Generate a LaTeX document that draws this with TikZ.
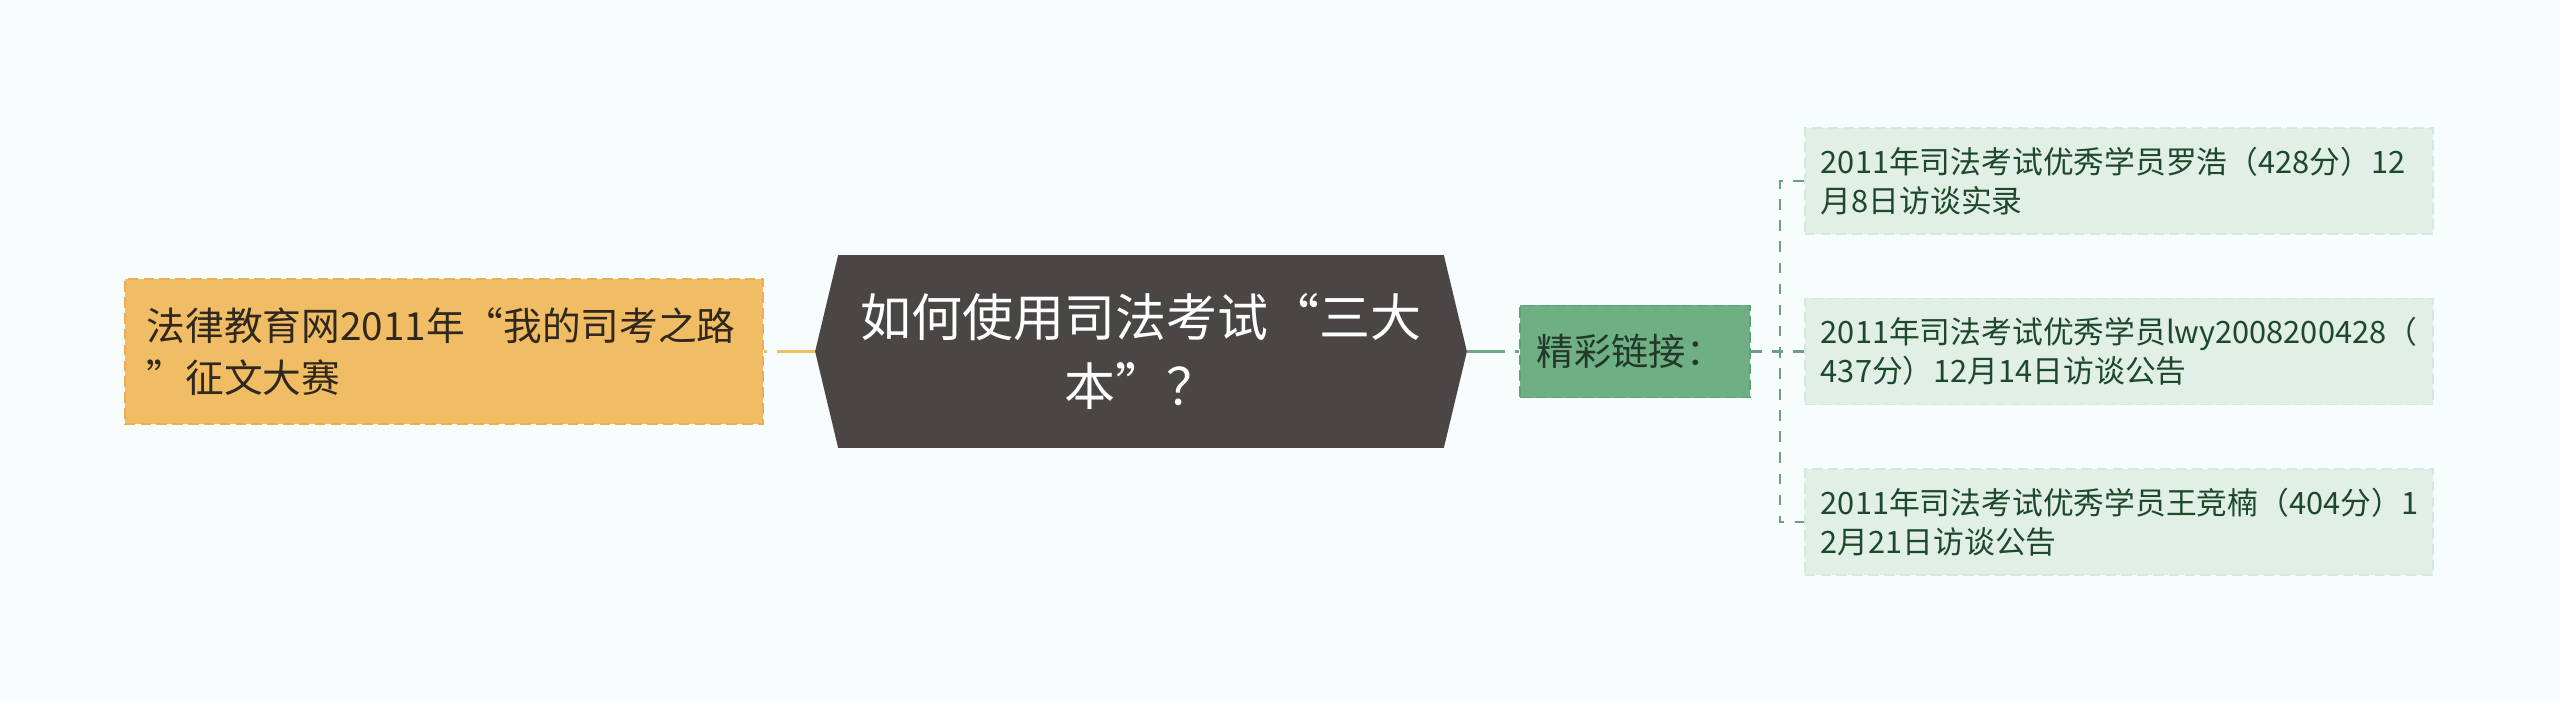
\documentclass[tikz,border=0pt]{standalone}
\usepackage{fontspec}
\setmainfont{Noto Sans CJK SC}
\usetikzlibrary{backgrounds}
\definecolor{bgcol}{RGB}{247,252,252}
\definecolor{orangefill}{RGB}{241,189,100}
\definecolor{orangeborder}{RGB}{232,176,86}
\definecolor{lefttext}{RGB}{48,40,30}
\definecolor{hexfill}{RGB}{75,70,70}
\definecolor{greenfill}{RGB}{110,175,132}
\definecolor{greenborder}{RGB}{96,160,118}
\definecolor{greentext}{RGB}{36,56,42}
\definecolor{greenline}{RGB}{108,170,130}
\definecolor{rightfill}{RGB}{225,239,230}
\definecolor{rightborder}{RGB}{214,232,221}
\definecolor{righttext}{RGB}{30,72,45}
\definecolor{dashcol}{RGB}{110,158,128}
\tikzset{
  leftbox/.style={rectangle, inner sep=0pt, fill=orangefill, draw=orangeborder, line width=0.5pt,
    dash pattern=on 3pt off 1.5pt, minimum width=6.38cm, minimum height=1.45cm, text width=5.94cm,
    align=left, text=lefttext, font=\fontsize{11pt}{14.8pt}\selectfont},
  hexnode/.style={rectangle, inner sep=0pt, minimum width=6.5cm, minimum height=1.91cm, text width=6.2cm,
    align=center, text=white, font=\fontsize{14.5pt}{19.6pt}\selectfont},
  greenbox/.style={rectangle, inner sep=0pt, fill=greenfill, draw=greenborder, line width=0.5pt,
    dash pattern=on 3pt off 1.5pt, minimum width=2.30cm, minimum height=0.92cm, text width=1.96cm,
    align=left, text=greentext, font=\fontsize{10.6pt}{13pt}\selectfont},
  rightbox/.style={rectangle, inner sep=0pt, fill=rightfill, draw=rightborder, line width=0.5pt,
    dash pattern=on 3pt off 1.5pt, minimum width=6.28cm, minimum height=1.06cm, text width=5.96cm,
    align=left, text=righttext, font=\fontsize{8.75pt}{10.95pt}\selectfont},
  orangeline/.style={draw=orangefill, line width=1.1pt, dash pattern=on 10.8pt off 2.85pt on 20pt off 0pt},
  greenconn/.style={draw=greenline, line width=1.1pt, dash pattern=on 10.8pt off 2.85pt on 20pt off 0pt},
  dashline/.style={draw=dashcol, line width=0.65pt, dash pattern=on 3pt off 3pt},
}
\begin{document}
\begin{tikzpicture}[x=0.01cm,y=-0.01cm]
\begin{pgfonlayer}{background}
\fill[bgcol] (0,0) rectangle (2560,703);
\end{pgfonlayer}
\useasboundingbox (0,0) rectangle (2560,703);

\node[hexnode] (C) at (1141,351.5) {如何使用司法考试“三大\\本”？};
\begin{pgfonlayer}{background}
\fill[hexfill] (C.west) -- ([xshift=0.23cm]C.north west) -- ([xshift=-0.23cm]C.north east)
  -- (C.east) -- ([xshift=-0.23cm]C.south east) -- ([xshift=0.23cm]C.south west) -- cycle;
\end{pgfonlayer}

\node[leftbox] (L) at (444,351.5) {法律教育网2011年“我的司考之路\\”征文大赛};
\node[greenbox] (G) at (1635,351.5) {精彩链接：};
\coordinate (T) at (1780,351.5);
\node[rightbox] (R1) at (2119,181) {2011年司法考试优秀学员罗浩（428分）12\\月8日访谈实录};
\node[rightbox] (R2) at (2119,351.5) {2011年司法考试优秀学员lwy2008200428（\\437分）12月14日访谈公告};
\node[rightbox] (R3) at (2119,522) {2011年司法考试优秀学员王竞楠（404分）1\\2月21日访谈公告};

\draw[orangeline] (C.west) -- (L.east);
\draw[greenconn] (C.east) -- (G.west);
\draw[dashline] (G.east) -- (R2.west);
\draw[dashline] (R1.west) -- (R1.west -| T) -- (R3.west -| T) -- (R3.west);
\end{tikzpicture}
\end{document}
